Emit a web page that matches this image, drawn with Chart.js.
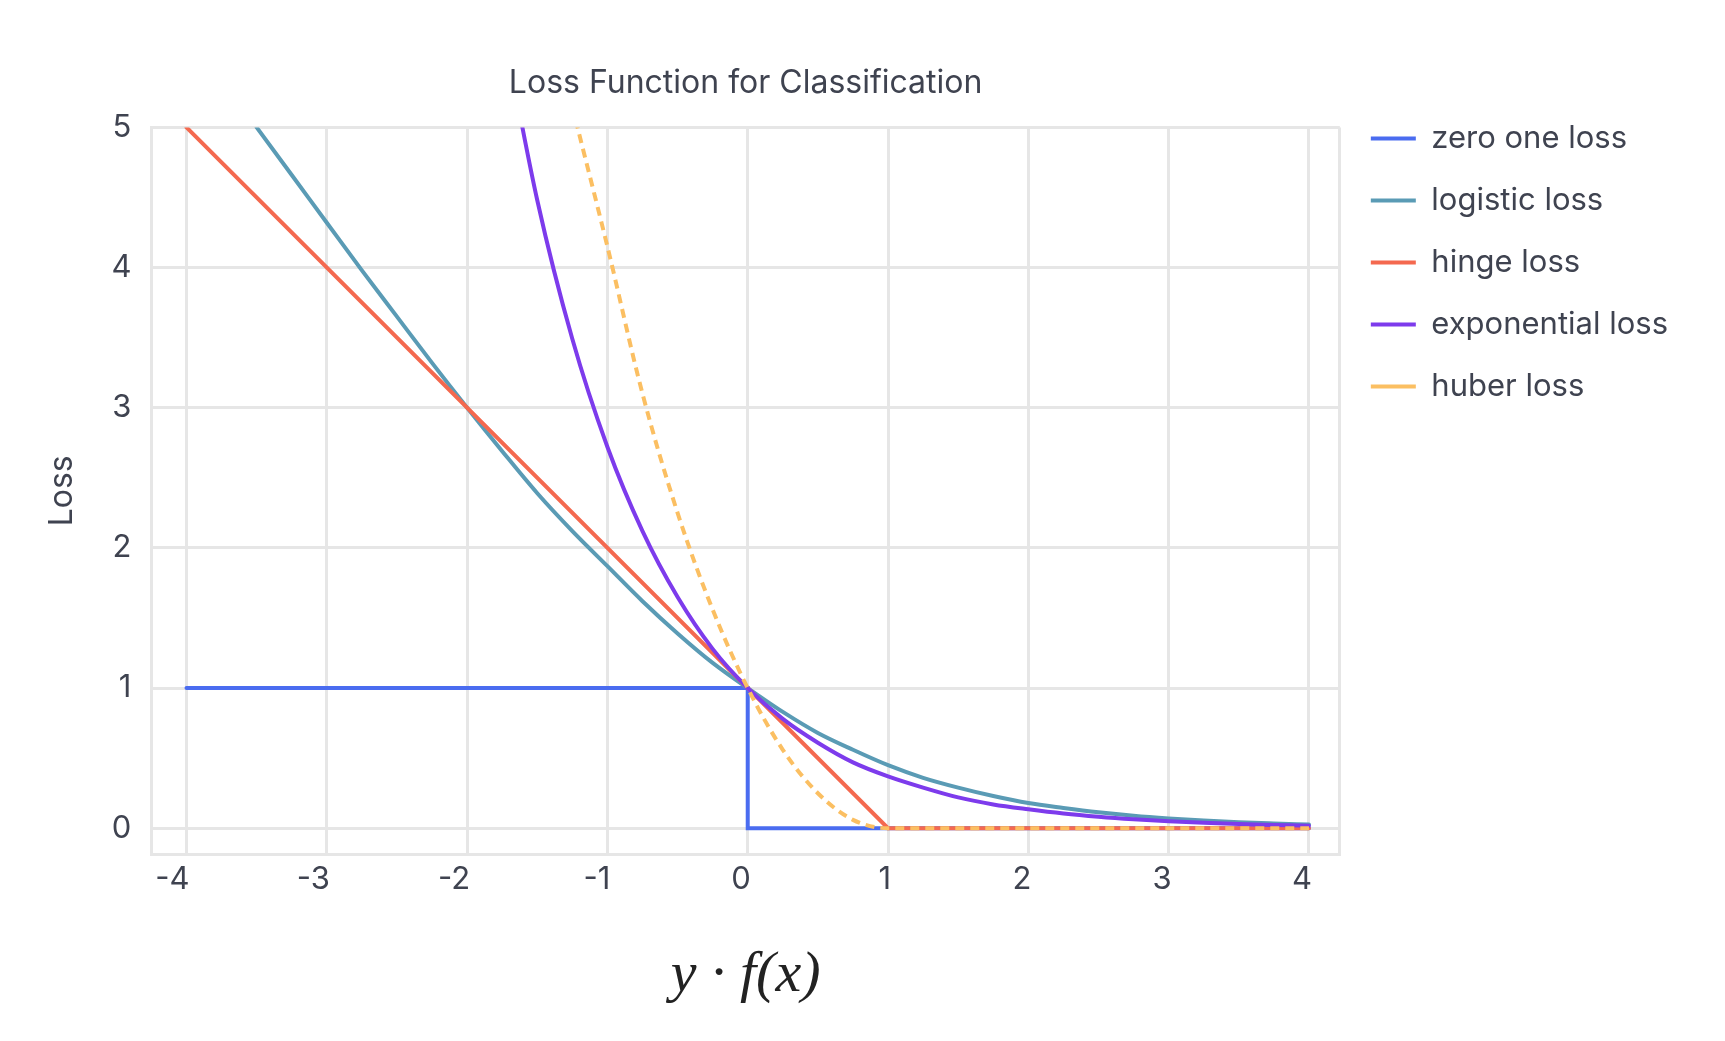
<!DOCTYPE html>
<html>
<head>
<meta charset="utf-8">
<title>Loss Function for Classification</title>
<script src="https://cdn.jsdelivr.net/npm/chart.js@4.4.1/dist/chart.umd.min.js"></script>
<style>
  html, body { margin: 0; padding: 0; background: #fff; }
  #wrap { width: 1725px; height: 1041px; }
</style>
</head>
<body>
<div id="wrap"><canvas id="lossChart"></canvas></div>
<script>
// margin values y*f(x) used for the smooth curves
const zGrid = [-3.5, -3.25, -3, -2.75, -2.5, -2.25, -2, -1.75, -1.5, -1.25, -1, -0.75, -0.5, -0.25,
    0, 0.25, 0.5, 0.75, 1, 1.25, 1.5, 1.75, 2, 2.25, 2.5, 2.75, 3, 3.25, 3.5, 3.75, 4];

const logisticLoss = [5.00, 4.66, 4.32, 3.98, 3.65, 3.32, 3.00, 2.69, 2.39, 2.12, 1.87, 1.62, 1.39, 1.18,
    1.00, 0.83, 0.68, 0.56, 0.45, 0.36, 0.29, 0.23, 0.18, 0.145, 0.114, 0.089, 0.070, 0.055, 0.043, 0.034, 0.026];

const exponentialLoss = [null, null, null, null, null, null, null, 5.75, 4.48, 3.49, 2.72, 2.12, 1.65, 1.28,
    1.00, 0.78, 0.61, 0.47, 0.37, 0.29, 0.22, 0.17, 0.135, 0.105, 0.082, 0.064, 0.050, 0.039, 0.030, 0.024, 0.018];

const huberLoss = [null, null, null, null, null, null, null, null, 6.2, 5.15, 4.15, 3.1, 2.25, 1.56,
    1.00, 0.56, 0.25, 0.06, 0, 0, 0, 0, 0, 0, 0, 0, 0, 0, 0, 0, 0];

// piecewise linear losses
const zeroOneX = [-4, 0, 0, 4];
const zeroOneLoss = [1, 1, 0, 0];
const hingeX = [-4, 1, 4];
const hingeLoss = [5, 0, 0];

const seriesNames = ['zero one loss', 'logistic loss', 'hinge loss', 'exponential loss', 'huber loss'];
const seriesColors = ['#4a6cf0', '#5a9bb5', '#f4694f', '#7d3bec', '#fbbf62'];

const xTicks = [-4, -3, -2, -1, 0, 1, 2, 3, 4];
const yTicks = [0, 1, 2, 3, 4, 5];
const X_MIN = -4.25, X_MAX = 4.22;
const Y_MIN = -0.185, Y_MAX = 5;

const textColor = '#3f4350';
const gridColor = '#e6e6e6';
const lineWidth = 4;

const toPoints = (xs, ys) => xs.map((x, i) => ({ x: x, y: ys[i] }));

const lineData = {
    datasets: [
        {
            label: seriesNames[0],
            data: toPoints(zeroOneX, zeroOneLoss),
            borderColor: seriesColors[0],
            backgroundColor: seriesColors[0],
            borderWidth: lineWidth,
            tension: 0,
            order: 5
        },
        {
            label: seriesNames[1],
            data: toPoints(zGrid, logisticLoss),
            borderColor: seriesColors[1],
            backgroundColor: seriesColors[1],
            borderWidth: lineWidth,
            cubicInterpolationMode: 'monotone',
            order: 4
        },
        {
            label: seriesNames[2],
            data: toPoints(hingeX, hingeLoss),
            borderColor: seriesColors[2],
            backgroundColor: seriesColors[2],
            borderWidth: lineWidth,
            tension: 0,
            order: 3
        },
        {
            label: seriesNames[3],
            data: toPoints(zGrid, exponentialLoss),
            borderColor: seriesColors[3],
            backgroundColor: seriesColors[3],
            borderWidth: lineWidth,
            cubicInterpolationMode: 'monotone',
            order: 2
        },
        {
            label: seriesNames[4],
            data: toPoints(zGrid, huberLoss),
            borderColor: seriesColors[4],
            backgroundColor: seriesColors[4],
            borderWidth: lineWidth,
            borderDash: [9, 6],
            borderCapStyle: 'butt',
            cubicInterpolationMode: 'monotone',
            order: 1
        }
    ]
};

const tickFont = { family: 'Inter', size: 31 };

new Chart(document.getElementById('lossChart'), {
    type: 'line',
    data: lineData,
    options: {
        responsive: true,
        maintainAspectRatio: false,
        devicePixelRatio: 1,
        animation: false,
        layout: { padding: { left: 20, right: 47, top: 0, bottom: 10 } },
        elements: {
            point: { radius: 0, hoverRadius: 0 },
            line: { borderCapStyle: 'round', fill: false }
        },
        scales: {
            x: {
                type: 'linear',
                min: X_MIN,
                max: X_MAX,
                afterBuildTicks: axis => {
                    axis.ticks = xTicks.concat([X_MAX]).map(v => ({ value: v }));
                },
                grid: { color: gridColor, lineWidth: 3, drawTicks: false },
                border: { color: gridColor, width: 3 },
                ticks: {
                    font: tickFont,
                    color: textColor,
                    padding: 7,
                    align: 'end',
                    labelOffset: 3,
                    maxRotation: 0,
                    autoSkip: false,
                    callback: v => (xTicks.includes(v) ? String(v) : '')
                },
                title: {
                    display: true,
                    text: 'y · f(x)',
                    color: '#222',
                    font: { family: 'Liberation Serif', size: 58, style: 'italic' },
                    padding: { top: 36, bottom: 20 }
                }
            },
            y: {
                type: 'linear',
                min: Y_MIN,
                max: Y_MAX,
                afterBuildTicks: axis => {
                    axis.ticks = yTicks.map(v => ({ value: v }));
                },
                grid: { color: gridColor, lineWidth: 3, drawTicks: false },
                border: { color: gridColor, width: 3 },
                ticks: {
                    font: tickFont,
                    color: textColor,
                    padding: 20,
                    callback: v => String(v)
                },
                title: {
                    display: true,
                    text: 'Loss',
                    color: textColor,
                    font: { family: 'Inter', size: 32 },
                    padding: { top: 23, bottom: 10 }
                }
            }
        },
        plugins: {
            title: {
                display: true,
                fullSize: false,
                text: 'Loss Function for Classification',
                color: textColor,
                font: { family: 'Inter', size: 32, weight: 'normal' },
                padding: { top: 64, bottom: 25 }
            },
            legend: {
                position: 'right',
                align: 'start',
                title: { display: true, text: ' ', font: { size: 10 }, padding: { top: 80, bottom: 0 } },
                labels: {
                    font: { family: 'Inter', size: 31 },
                    color: textColor,
                    padding: 31,
                    usePointStyle: true,
                    pointStyle: 'line',
                    pointStyleWidth: 45,
                    sort: (a, b) => a.datasetIndex - b.datasetIndex
                }
            },
            tooltip: { enabled: false }
        }
    }
});
</script>
</body>
</html>
